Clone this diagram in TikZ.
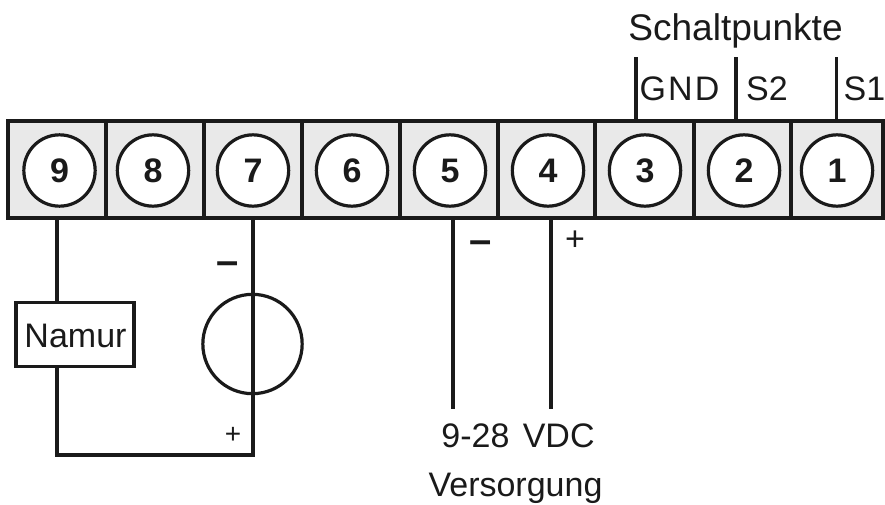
\documentclass[tikz,border=0pt]{standalone}
\usepackage{fontspec}
\setmainfont{Liberation Sans}
\usetikzlibrary{calc}
\definecolor{ink}{HTML}{1A1A1A}
\definecolor{cellgray}{HTML}{E9E9E9}
\tikzset{
  x=0.75pt,y=-0.75pt,
  wire/.style={draw=ink,line width=2.4pt,line cap=rect},
  termc/.style={circle,draw=ink,fill=white,line width=2.4pt,minimum size=53.5pt,inner sep=0pt,text=ink,font=\fontsize{25.5}{30}\selectfont\bfseries},
  lab/.style={text=ink,inner sep=0pt,font=\fontsize{25.5}{30}\selectfont,anchor=base},
  sign/.style={text=ink,inner sep=0pt,anchor=center},
}
\begin{document}
\begin{tikzpicture}
\useasboundingbox (0,0) rectangle (885,504);
% terminal strip cells
\foreach \xa/\xb in {8/106,106/204,204/302,302/400,400/498,498/595,595/694,694/791,791/883}{
  \path[draw=ink,fill=cellgray,line width=2.4pt] (\xa,121) rectangle (\xb,218);
}
% terminals
\node[termc] (t9) at (59.5,170.5) {9};
\node[termc] (t8) at (153,170.5) {8};
\node[termc] (t7) at (253,170.5) {7};
\node[termc] (t6) at (352,170.5) {6};
\node[termc] (t5) at (450,170.5) {5};
\node[termc] (t4) at (548,170.5) {4};
\node[termc] (t3) at (645,170.5) {3};
\node[termc] (t2) at (744,170.5) {2};
\node[termc] (t1) at (837,170.5) {1};
% wire anchors on the strip
\coordinate (a9) at (57,218);
\coordinate (a7) at (253,218);
\coordinate (a5) at (453,218);
\coordinate (a4) at (551,218);
\coordinate (a3) at (636,121);
\coordinate (a2) at (736,121);
\coordinate (a1) at (836.5,121);
% free ends
\coordinate (e5) at (453,407);
\coordinate (e4) at (551,407);
\coordinate (e3) at (636,59);
\coordinate (e2) at (736,59);
\coordinate (e1) at (836.5,59);
\coordinate (cornerL) at (57,455);
\coordinate (cornerR) at (253,455);
\coordinate (namT) at (57,302);
\coordinate (namB) at (57,367);
% components
\node[draw=ink,line width=2.4pt,minimum width=88.5pt,minimum height=47.5pt,inner sep=0pt] (namur) at (75,334.5) {};
\node[lab] (namurtxt) at (75.5,347.5) {Namur};
\node[circle,draw=ink,line width=2.4pt,minimum size=74.5pt,inner sep=0pt] (src) at (252.5,344) {};
% connectors
\draw[wire] (a9) -- (namT);
\draw[wire] (namB) -- (cornerL) -- (cornerR) -- (a7);
\draw[wire] (a5) -- (e5);
\draw[wire] (a4) -- (e4);
\draw[wire] (a3) -- (e3);
\draw[wire] (a2) -- (e2);
\draw[wire] (a1) -- (e1);
% labels
\node[lab,font=\fontsize{27.8}{32}\selectfont] (schalt) at (735.5,40) {Schaltpunkte};
\node[lab] (gnd) at (679.5,100) {\addfontfeature{LetterSpace=6}GND};
\node[lab] (s2) at (767,100) {S2};
\node[lab] (s1) at (864.5,100) {S1};
\node[lab] (vdc) at (518,447) {9-28\hspace{10pt}VDC};
\node[lab] (vers) at (515.5,496.5) {Versorgung};
\node[sign,font=\fontsize{30}{33}\selectfont\bfseries] (m7) at (228,268.5) {–};
\node[sign,font=\fontsize{30}{33}\selectfont\bfseries] (m5) at (481,247.5) {–};
\node[sign,font=\fontsize{25.5}{28}\selectfont] (p4) at (575,241) {+};
\node[sign,font=\fontsize{21}{24}\selectfont] (p7) at (233,435) {+};
\end{tikzpicture}
\end{document}
